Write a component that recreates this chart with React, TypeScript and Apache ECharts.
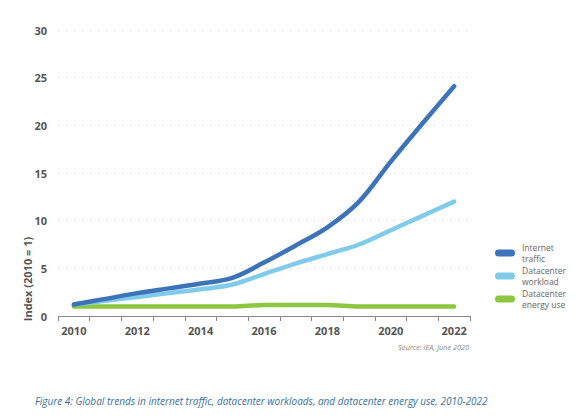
import React, { useEffect, useRef } from "react";
import * as echarts from "echarts";

const years = ["2010","2011","2012","2013","2014","2015","2016","2017","2018","2019","2020","2021","2022"];
const internetTraffic = [1.2, 1.8, 2.4, 2.9, 3.4, 4.0, 5.6, 7.4, 9.3, 12.0, 16.2, 20.2, 24.1];
const datacenterWorkload = [1.2, 1.6, 2.0, 2.4, 2.8, 3.3, 4.4, 5.5, 6.5, 7.5, 9.0, 10.5, 12.0];
const datacenterEnergy = [1.0, 1.0, 1.0, 1.0, 1.0, 1.0, 1.15, 1.15, 1.15, 1.0, 1.0, 1.0, 1.0];
const yTicks = [0, 5, 10, 15, 20, 25, 30];
const legendLabels = [["Internet", "traffic"], ["Datacenter", "workload"], ["Datacenter", "energy use"]];

const FONT = "'Open Sans', 'Noto Sans', sans-serif";
const COLORS = ["#3c73b9", "#80cbea", "#8dc63f"];

export default function App() {
  const ref = useRef<HTMLDivElement>(null);
  useEffect(() => {
    const chart = echarts.init(ref.current!, null, { renderer: "svg" });
    const lineSeries = (name: string, data: number[], color: string) => ({
      name,
      type: "line",
      data,
      smooth: 0.35,
      symbol: "none",
      lineStyle: { color, width: 4.5, cap: "round" },
      itemStyle: { color },
    });
    const legendCenters = [253, 276, 299];
    const legendGraphics: any[] = [];
    legendLabels.forEach((lines, i) => {
      const c = legendCenters[i];
      legendGraphics.push({
        type: "rect",
        shape: { x: 495, y: c - 3.5, width: 20, height: 7, r: 3.5 },
        style: { fill: COLORS[i] },
      });
      lines.forEach((t, j) => {
        legendGraphics.push({
          type: "text",
          x: 522,
          y: c - 5.8 + j * 11.6,
          style: {
            text: t,
            fill: "#666",
            font: `8.5px ${FONT}`,
            align: "left",
            verticalAlign: "middle",
          },
        });
      });
    });
    chart.setOption({
      animation: false,
      backgroundColor: "#ffffff",
      grid: { left: 58, right: 110, top: 30, bottom: 103, containLabel: false },
      xAxis: {
        type: "category",
        data: years,
        boundaryGap: true,
        axisLine: { lineStyle: { color: "#888", width: 1 } },
        axisTick: { show: true, interval: 0, length: 5, lineStyle: { color: "#888" } },
        axisLabel: {
          interval: 1,
          color: "#555",
          fontWeight: "bold",
          fontSize: 11,
          fontFamily: FONT,
          margin: 9,
        },
      },
      yAxis: {
        type: "value",
        min: yTicks[0],
        max: yTicks[yTicks.length - 1],
        interval: 5,
        axisLine: { show: false },
        axisTick: { show: false },
        axisLabel: {
          color: "#555",
          fontWeight: "bold",
          fontSize: 11,
          fontFamily: FONT,
          margin: 11,
        },
        splitLine: { lineStyle: { color: "#d4d4d4", type: [1, 7], width: 1.2 } },
      },
      graphic: [
        ...legendGraphics,
        {
          type: "text",
          x: 27,
          y: 279,
          rotation: Math.PI / 2,
          style: {
            text: "Index (2010 = 1)",
            fill: "#555",
            font: `bold 11px ${FONT}`,
            align: "center",
            verticalAlign: "middle",
          },
        },
        {
          type: "text",
          x: 469,
          y: 347,
          style: {
            text: "Source: IEA, June 2020",
            fill: "#888",
            font: `italic 7.3px ${FONT}`,
            align: "right",
            verticalAlign: "middle",
          },
        },
        {
          type: "text",
          x: 35,
          y: 401,
          style: {
            text: "Figure 4: Global trends in internet traffic, datacenter workloads, and datacenter energy use, 2010-2022",
            fill: "#3b6fa0",
            font: `italic 10px ${FONT}`,
            align: "left",
            verticalAlign: "middle",
          },
        },
      ],
      series: [
        lineSeries("Datacenter energy use", datacenterEnergy, COLORS[2]),
        lineSeries("Datacenter workload", datacenterWorkload, COLORS[1]),
        lineSeries("Internet traffic", internetTraffic, COLORS[0]),
      ],
    });
    return () => chart.dispose();
  }, []);
  return (
    <div
      ref={ref}
      style={{ position: "fixed", left: 0, top: 0, width: 580, height: 419, background: "#fff" }}
    />
  );
}
